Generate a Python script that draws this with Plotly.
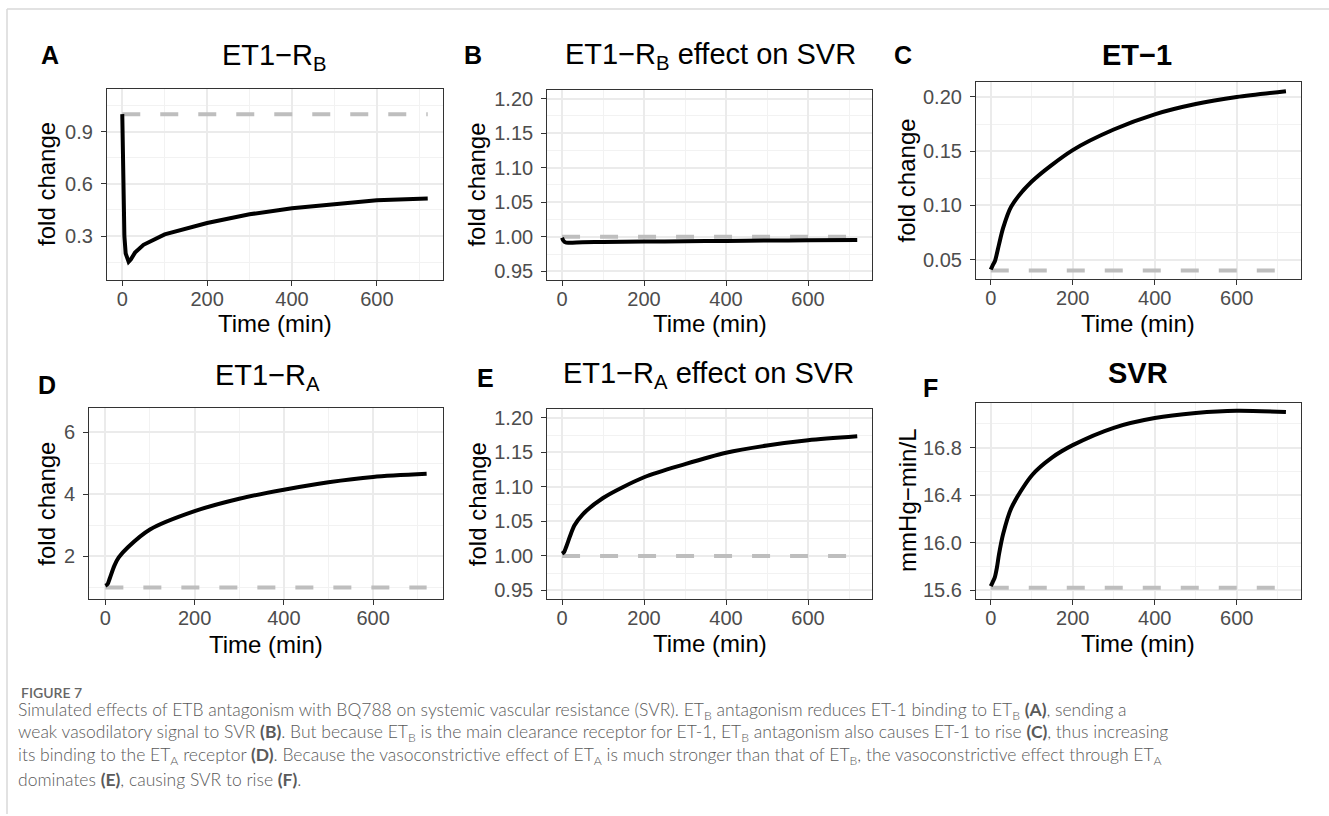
import plotly.graph_objects as go

W, H = 1329, 816

# ---------------- data ----------------
t_A = [0, 1, 2, 3, 5, 8, 12, 15, 20, 30, 50, 100, 200, 300, 400, 500, 600, 720]
y_A = [1.0, 0.85, 0.6, 0.45, 0.3, 0.2, 0.16, 0.152, 0.165, 0.205, 0.25, 0.31, 0.375, 0.425, 0.46, 0.485, 0.505, 0.516]

t_B = [0, 3, 6, 10, 20, 50, 100, 200, 300, 400, 500, 600, 720]
y_B = [0.9986, 0.9945, 0.9925, 0.9915, 0.9914, 0.992, 0.9925, 0.993, 0.9935, 0.994, 0.9945, 0.9948, 0.9952]

t_C = [0, 5, 10, 20, 30, 50, 100, 200, 300, 400, 500, 600, 720]
y_C = [0.0408, 0.045, 0.0484, 0.0638, 0.079, 0.099, 0.122, 0.151, 0.170, 0.184, 0.1935, 0.200, 0.2053]

t_D = [0, 5, 10, 20, 30, 50, 100, 200, 300, 400, 500, 600, 720]
y_D = [1.06, 1.11, 1.3, 1.70, 1.97, 2.29, 2.87, 3.46, 3.86, 4.15, 4.39, 4.56, 4.66]

t_E = [0, 5, 10, 20, 30, 50, 100, 200, 300, 400, 500, 600, 720]
y_E = [1.0033, 1.0057, 1.013, 1.0295, 1.044, 1.060, 1.084, 1.114, 1.133, 1.1495, 1.160, 1.1676, 1.1733]

t_F = [0, 5, 10, 15, 20, 30, 50, 100, 150, 200, 300, 400, 500, 600, 720]
y_F = [15.633, 15.67, 15.71, 15.79, 15.90, 16.07, 16.29, 16.565, 16.717, 16.82, 16.966, 17.048, 17.09, 17.109, 17.098]

baseline_t = [0, 720]
base_A = [1.0, 1.0]
base_B = [1.0, 1.0]
base_C = [0.04, 0.04]
base_D = [1.0, 1.0]
base_E = [1.0, 1.0]
base_F = [15.62, 15.62]

x_ticks = [0, 200, 400, 600]
x_minor = [100, 300, 500, 700]
yt_A = [0.3, 0.6, 0.9]; yl_A = ["0.3", "0.6", "0.9"]; ym_A = [0.15, 0.45, 0.75, 1.05]
yt_B = [0.95, 1.00, 1.05, 1.10, 1.15, 1.20]; yl_B = ["0.95", "1.00", "1.05", "1.10", "1.15", "1.20"]
ym_B = [0.975, 1.025, 1.075, 1.125, 1.175]
yt_C = [0.05, 0.10, 0.15, 0.20]; yl_C = ["0.05", "0.10", "0.15", "0.20"]; ym_C = [0.075, 0.125, 0.175]
yt_D = [2, 4, 6]; yl_D = ["2", "4", "6"]; ym_D = [1, 3, 5]
yt_F = [15.6, 16.0, 16.4, 16.8]; yl_F = ["15.6", "16.0", "16.4", "16.8"]; ym_F = [15.8, 16.2, 16.6, 17.0]

titles = ["ET1\u2212R<sub>B</sub>", "ET1\u2212R<sub>B</sub> effect on SVR", "<b>ET\u22121</b>",
          "ET1\u2212R<sub>A</sub>", "ET1\u2212R<sub>A</sub> effect on SVR", "<b>SVR</b>"]
letters = ["A", "B", "C", "D", "E", "F"]
ytitles = ["fold change"] * 5 + ["mmHg\u2212min/L"]

# ---------------- layout geometry (pixels) ----------------
boxes = [  # x0, x1, ytop, ybottom
    (107, 443, 87.3, 279),
    (547.3, 872, 88.3, 279.3),
    (976, 1300.7, 80.7, 278.7),
    (89.3, 442.7, 408.3, 600),
    (547.3, 872, 409.3, 600),
    (976, 1300.7, 402.7, 600),
]
yranges = [[0.05, 1.145], [0.9375, 1.2125], [0.0318, 0.2135], [0.63, 6.77], [0.9375, 1.2125], [15.525, 17.177]]
yticks = [(yt_A, yl_A, ym_A), (yt_B, yl_B, ym_B), (yt_C, yl_C, ym_C), (yt_D, yl_D, ym_D), (yt_B, yl_B, ym_B), (yt_F, yl_F, ym_F)]
series = [(t_A, y_A, base_A, "linear"), (t_B, y_B, base_B, "spline"), (t_C, y_C, base_C, "spline"),
          (t_D, y_D, base_D, "spline"), (t_E, y_E, base_E, "spline"), (t_F, y_F, base_F, "spline")]
title_pos = [(274, 55), (710, 54), (1137, 53), (267, 376.7), (709, 375), (1138, 373)]
letter_pos = [(50, 53), (473, 53), (903, 53), (47, 385), (485, 378), (930, 388)]
ytitle_x = [46.7, 476.7, 906.7, 47, 477, 908]
xtitle_y = [323, 323, 323, 646, 645, 645]

FONT = "Liberation Sans, Arial, sans-serif"

def px(x):
    return x / W

def py(y):
    return 1 - y / H

fig = go.Figure()
annotations = []
layout = dict(width=W, height=H, margin=dict(l=0, r=0, t=0, b=0),
              paper_bgcolor="white", plot_bgcolor="white", showlegend=False,
              font=dict(family=FONT, color="black"))

for i in range(6):
    n = "" if i == 0 else str(i + 1)
    t, y, base, shape = series[i]
    fig.add_trace(go.Scatter(x=baseline_t, y=base, mode="lines",
                             line=dict(color="#BEBEBE", width=4, dash="18px,20px"),
                             xaxis="x" + n, yaxis="y" + n, hoverinfo="skip"))
    fig.add_trace(go.Scatter(x=t, y=y, mode="lines",
                             line=dict(color="black", width=4, shape=shape, smoothing=0.8),
                             xaxis="x" + n, yaxis="y" + n))
    x0, x1, yt, yb = boxes[i]
    common = dict(showline=True, linecolor="#333333", linewidth=1.2, mirror=True,
                  ticks="outside", ticklen=5, tickwidth=1.2, tickcolor="#333333",
                  tickfont=dict(family=FONT, size=20, color="#4D4D4D"),
                  showgrid=True, gridcolor="#EBEBEB", gridwidth=1.6, zeroline=False)
    tv, tl, tm = yticks[i]
    layout["xaxis" + n] = dict(common, domain=[px(x0), px(x1)], anchor="y" + n,
                               range=[-36, 756], tickmode="array", tickvals=x_ticks,
                               ticktext=[str(v) for v in x_ticks], ticklabelstandoff=-4,
                               minor=dict(tickmode="array", tickvals=x_minor, showgrid=True,
                                          gridcolor="#F2F2F2", gridwidth=0.9, ticks=""))
    layout["yaxis" + n] = dict(common, domain=[py(yb), py(yt)], anchor="x" + n,
                               range=yranges[i], tickmode="array", tickvals=tv, ticktext=tl,
                               ticklabelstandoff=4,
                               minor=dict(tickmode="array", tickvals=tm, showgrid=True,
                                          gridcolor="#F2F2F2", gridwidth=0.9, ticks=""))
    # panel title
    annotations.append(dict(text=titles[i], x=px(title_pos[i][0]), y=py(title_pos[i][1]),
                            xref="paper", yref="paper", xanchor="center", yanchor="middle",
                            showarrow=False, font=dict(family=FONT, size=29, color="black")))
    annotations.append(dict(text="<b>" + letters[i] + "</b>", x=px(letter_pos[i][0]), y=py(letter_pos[i][1]),
                            xref="paper", yref="paper", xanchor="center", yanchor="middle",
                            showarrow=False, font=dict(family=FONT, size=25, color="black")))
    annotations.append(dict(text=ytitles[i], x=px(ytitle_x[i]), y=py((yt + yb) / 2),
                            xref="paper", yref="paper", xanchor="center", yanchor="middle",
                            textangle=-90, showarrow=False,
                            font=dict(family=FONT, size=24, color="black")))
    annotations.append(dict(text="Time (min)", x=px((x0 + x1) / 2), y=py(xtitle_y[i]),
                            xref="paper", yref="paper", xanchor="center", yanchor="middle",
                            showarrow=False, font=dict(family=FONT, size=24, color="black")))

# ---------------- caption ----------------
CAP_FONT = "Lato, sans-serif"
cap_color = "#5A5A5A"
caption_lines = [
    "Simulated effects of ETB antagonism with BQ788 on systemic vascular resistance (SVR). ET<sub>B</sub> antagonism reduces ET-1 binding to ET<sub>B</sub> <b>(A)</b>, sending a",
    "weak vasodilatory signal to SVR <b>(B)</b>. But because ET<sub>B</sub> is the main clearance receptor for ET-1, ET<sub>B</sub> antagonism also causes ET-1 to rise <b>(C)</b>, thus increasing",
    "its binding to the ET<sub>A</sub> receptor <b>(D)</b>. Because the vasoconstrictive effect of ET<sub>A</sub> is much stronger than that of ET<sub>B</sub>, the vasoconstrictive effect through ET<sub>A</sub>",
    "dominates <b>(E)</b>, causing SVR to rise <b>(F)</b>.",
]
caption_y = [712, 735, 758, 781]
annotations.append(dict(text="FIGURE 7", x=px(19), y=py(694), xref="paper", yref="paper",
                        xanchor="left", yanchor="middle", showarrow=False,
                        font=dict(family=CAP_FONT, size=14, color="#666666", weight=600)))
for line, yy in zip(caption_lines, caption_y):
    annotations.append(dict(text=line, x=px(16), y=py(yy), xref="paper", yref="paper",
                            xanchor="left", yanchor="middle", showarrow=False,
                            font=dict(family=CAP_FONT, size=17.5, color=cap_color, weight=300)))

layout["annotations"] = annotations
layout["shapes"] = [
    dict(type="line", xref="paper", yref="paper", x0=px(7), x1=1, y0=py(7), y1=py(7),
         line=dict(color="#D9D9D9", width=1.5)),
    dict(type="line", xref="paper", yref="paper", x0=px(7), x1=px(7), y0=py(7), y1=0,
         line=dict(color="#D9D9D9", width=1.5)),
]
fig.update_layout(**layout)
fig.write_html("out.html", config={"displayModeBar": False},
               post_script="document.body.style.margin='0';document.body.style.overflow='hidden';")
